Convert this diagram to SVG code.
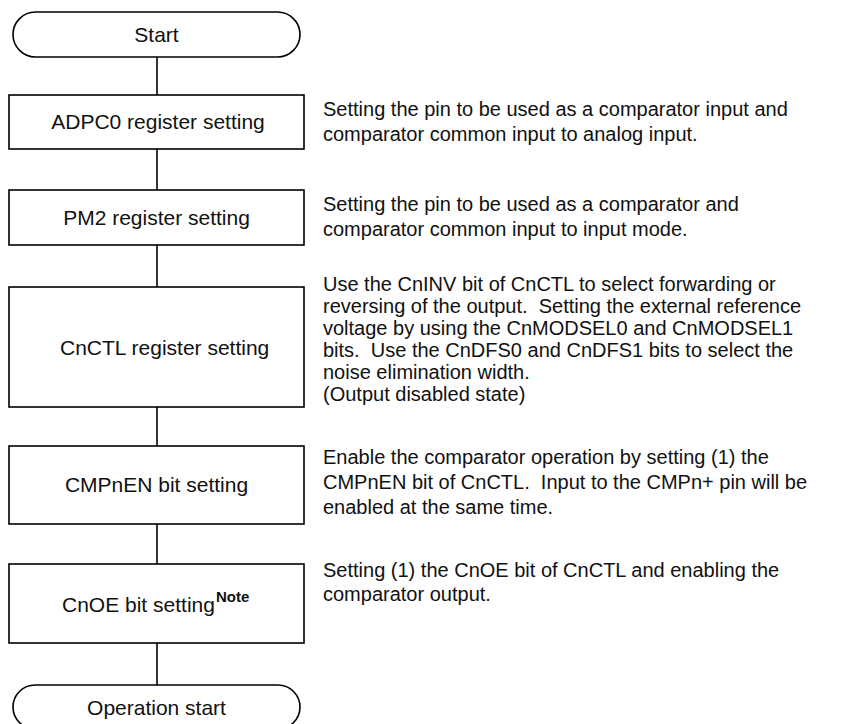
<svg xmlns="http://www.w3.org/2000/svg" width="841" height="724" viewBox="0 0 841 724">
<style>
.box{fill:#fff;stroke:#000;stroke-width:1.6}
.lbl{font-family:"Liberation Sans",Arial,sans-serif;font-size:21px;fill:#111;text-anchor:middle}
.lbs{font-family:"Liberation Sans",Arial,sans-serif;font-size:21px;fill:#111}
.note{font-family:"Liberation Sans",Arial,sans-serif;font-size:15px;font-weight:bold;fill:#111}
.desc{font-family:"Liberation Sans",Arial,sans-serif;font-size:20px;fill:#111;white-space:pre}
.con{stroke:#000;stroke-width:1.6;fill:none}
</style>
<rect width="841" height="724" fill="#fff"/>
<g id="connectors">
<line class="con" x1="157" y1="57" x2="157" y2="95"/>
<line class="con" x1="157" y1="149" x2="157" y2="190"/>
<line class="con" x1="157" y1="245" x2="157" y2="287"/>
<line class="con" x1="157" y1="407" x2="157" y2="446"/>
<line class="con" x1="157" y1="524" x2="157" y2="564"/>
<line class="con" x1="157" y1="643" x2="157" y2="685"/>
</g>
<g id="start">
<rect class="box" x="13" y="12" width="287" height="45" rx="22.5"/>
<text class="lbl" x="156.5" y="42">Start</text>
</g>
<g id="adpc0">
<rect class="box" x="9" y="95" width="295" height="54"/>
<text class="lbl" x="158" y="129">ADPC0 register setting</text>
<text class="desc" x="323" y="116">Setting the pin to be used as a comparator input and</text>
<text class="desc" x="323" y="141">comparator common input to analog input.</text>
</g>
<g id="pm2">
<rect class="box" x="9" y="190" width="295" height="55"/>
<text class="lbl" x="156.5" y="225">PM2 register setting</text>
<text class="desc" x="323" y="211">Setting the pin to be used as a comparator and</text>
<text class="desc" x="323" y="236">comparator common input to input mode.</text>
</g>
<g id="cnctl">
<rect class="box" x="9" y="287" width="295" height="120"/>
<text class="lbs" x="60" y="355">CnCTL register setting</text>
<text class="desc" x="323" y="291">Use the CnINV bit of CnCTL to select forwarding or</text>
<text class="desc" x="323" y="313">reversing of the output.  Setting the external reference</text>
<text class="desc" x="323" y="335">voltage by using the CnMODSEL0 and CnMODSEL1</text>
<text class="desc" x="323" y="357">bits.  Use the CnDFS0 and CnDFS1 bits to select the</text>
<text class="desc" x="323" y="379">noise elimination width.</text>
<text class="desc" x="323" y="401">(Output disabled state)</text>
</g>
<g id="cmpnen">
<rect class="box" x="9" y="446" width="295" height="78"/>
<text class="lbl" x="156.5" y="492">CMPnEN bit setting</text>
<text class="desc" x="323" y="464">Enable the comparator operation by setting (1) the</text>
<text class="desc" x="323" y="489">CMPnEN bit of CnCTL.  Input to the CMPn+ pin will be</text>
<text class="desc" x="323" y="514">enabled at the same time.</text>
</g>
<g id="cnoe">
<rect class="box" x="9" y="564" width="295" height="79"/>
<text class="lbs" x="62" y="612">CnOE bit setting<tspan class="note" dx="1" dy="-10">Note</tspan></text>
<text class="desc" x="323" y="577">Setting (1) the CnOE bit of CnCTL and enabling the</text>
<text class="desc" x="323" y="601">comparator output.</text>
</g>
<g id="opstart">
<rect class="box" x="13" y="685" width="287" height="44" rx="22"/>
<text class="lbl" x="156.5" y="715">Operation start</text>
</g>
</svg>
